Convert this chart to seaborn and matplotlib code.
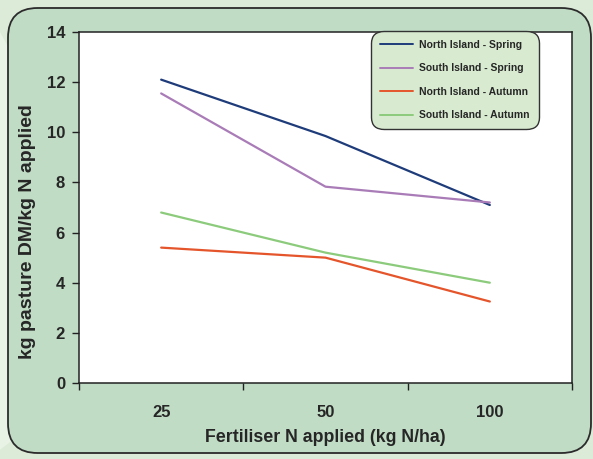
import matplotlib
matplotlib.use("Agg")
import matplotlib.pyplot as plt
from matplotlib.patches import FancyBboxPatch, Polygon
from matplotlib.ticker import FixedLocator
import seaborn as sns
import pandas as pd

# Pasture response to fertiliser N (kg DM per kg N applied)
rates = ["25", "50", "100"]
north_spring = [12.1, 9.85, 7.1]
south_spring = [11.55, 7.83, 7.2]
north_autumn = [5.4, 5.0, 3.25]
south_autumn = [6.8, 5.2, 4.0]

series_names = ["North Island - Spring", "South Island - Spring",
                "North Island - Autumn", "South Island - Autumn"]
series_values = [north_spring, south_spring, north_autumn, south_autumn]
colors = ["#1f3c7a", "#a97cb8", "#e5552c", "#8ccb7c"]

df = pd.DataFrame({
    "rate": [r for _ in series_names for r in rates],
    "value": [v for vals in series_values for v in vals],
    "series": [s for s in series_names for _ in rates],
})

sns.set_theme(style="white")
plt.rcParams["font.family"] = ["Liberation Sans", "DejaVu Sans"]
plt.rcParams["font.weight"] = "bold"

W, H = 593, 459
fig = plt.figure(figsize=(W / 100, H / 100), dpi=100)
fig.patch.set_facecolor("#dcebd8")

# faint lighter wedge behind the panel on the left
fig.patches.append(Polygon([(0, 0.93), (0.03, 0.86), (0.03, 0.05), (0, 0.02)],
                           closed=True, transform=fig.transFigure,
                           facecolor="#e8f3e6", edgecolor="none", zorder=0))

# rounded panel
panel = FancyBboxPatch((8 / W, 1 - 453 / H), 583 / W, 445 / H,
                       boxstyle="round,pad=0,rounding_size=0.05",
                       transform=fig.transFigure, facecolor="#c1dcc5",
                       edgecolor="#2b2b2b", linewidth=1.3, zorder=1,
                       mutation_aspect=W / H)
fig.patches.append(panel)

ax = fig.add_axes([79 / W, 1 - 383 / H, (572 - 79) / W, (383 - 32) / H])
ax.set_facecolor("white")
ax.set_zorder(2)

sns.lineplot(data=df, x="rate", y="value", hue="series", hue_order=series_names,
             palette=colors, sort=False, linewidth=1.6, ax=ax, legend=False)

ax.set_xlim(-0.5, 2.5)
ax.set_ylim(0, 14)
ax.set_yticks(range(0, 15, 2))
ax.set_xticks([0, 1, 2])
ax.set_xticklabels(rates)
ax.xaxis.set_minor_locator(FixedLocator([-0.5, 0.5, 1.5, 2.5]))
ax.tick_params(axis="x", which="major", length=0, pad=16, labelsize=12)
ax.tick_params(axis="x", which="minor", length=5, width=1, color="#222222",
               direction="out", bottom=True)
ax.tick_params(axis="y", length=5, width=1, color="#222222", direction="out",
               left=True, labelsize=12, pad=5)
for lab in ax.get_xticklabels() + ax.get_yticklabels():
    lab.set_fontweight("bold")

for side in ["left", "bottom", "top", "right"]:
    ax.spines[side].set_color("#222222")
    ax.spines[side].set_linewidth(1.1)

ax.set_xlabel("Fertiliser N applied (kg N/ha)", fontsize=12.8, fontweight="bold")
ax.set_ylabel("kg pasture DM/kg N applied", fontsize=14, fontweight="bold")
ax.xaxis.set_label_coords(0.5, -(437 - 383) / 351, transform=ax.transAxes)
ax.xaxis.label.set_va("center")
ax.yaxis.set_label_coords(-(79 - 36) / 493, (383 - 232) / 351)

handles = [plt.Line2D([0], [0], color=c, lw=1.4) for c in colors]
leg = ax.legend(handles, series_names, loc="upper left",
                bbox_to_anchor=((371 - 79) / 493, 1.003), frameon=True,
                fancybox=True, facecolor="#d8ebd0", edgecolor="#333333",
                framealpha=1, prop={"size": 7.5, "weight": "bold"},
                handlelength=3.2, handletextpad=0.6, labelspacing=1.3,
                borderpad=0.85, borderaxespad=0)
frame = leg.get_frame()
frame.set_linewidth(1.0)
frame.set_boxstyle("round,pad=0,rounding_size=1.2")

fig.savefig("out.png", dpi=100, facecolor=fig.get_facecolor())
